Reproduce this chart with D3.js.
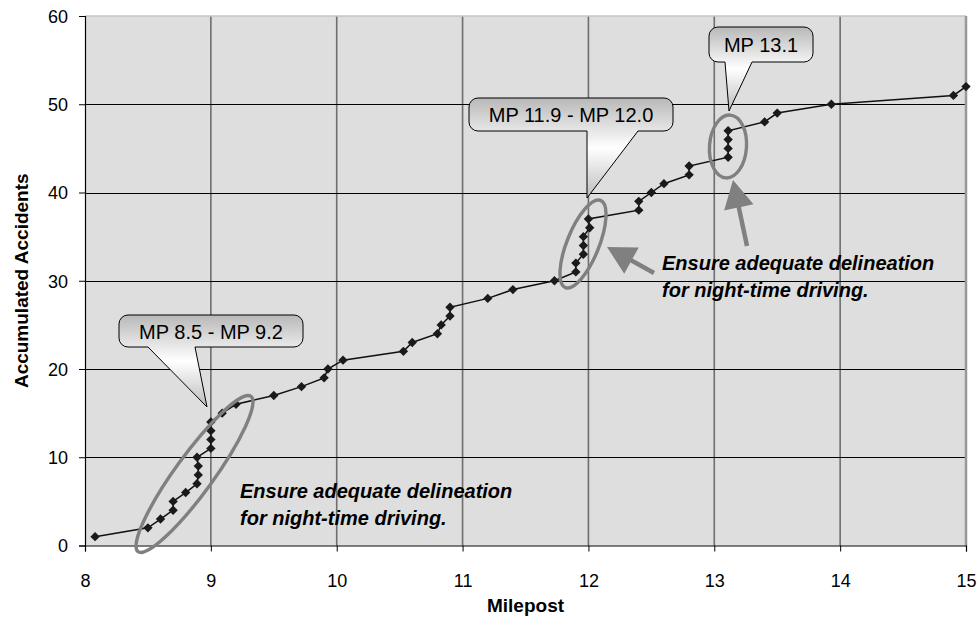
<!DOCTYPE html>
<html><head><meta charset="utf-8">
<script src="https://cdn.jsdelivr.net/npm/d3@7"></script>
<style>body{margin:0;background:#fff}svg{display:block;font-family:Arial,"Liberation Sans",sans-serif}</style>
</head><body><svg id="c" width="979" height="634"></svg>
<script>
// ---- data ----
const milepost = [8.08, 8.50, 8.60, 8.70, 8.70, 8.80, 8.89, 8.90, 8.90, 8.89,
  9.00, 9.00, 9.00, 9.00, 9.09, 9.20, 9.50, 9.72, 9.90, 9.93,
  10.05, 10.53, 10.60, 10.80, 10.83, 10.90, 10.90, 11.20, 11.40, 11.73,
  11.90, 11.90, 11.96, 11.96, 11.96, 12.01, 12.00, 12.40, 12.40, 12.50,
  12.60, 12.80, 12.80, 13.11, 13.11, 13.11, 13.11, 13.40, 13.50, 13.93,
  14.90, 15.00];
const accidents = [1, 2, 3, 4, 5, 6, 7, 8, 9, 10,
  11, 12, 13, 14, 15, 16, 17, 18, 19, 20,
  21, 22, 23, 24, 25, 26, 27, 28, 29, 30,
  31, 32, 33, 34, 35, 36, 37, 38, 39, 40,
  41, 42, 43, 44, 45, 46, 47, 48, 49, 50,
  51, 52];
const xTicks = [8, 9, 10, 11, 12, 13, 14, 15];
const yTicks = [0, 10, 20, 30, 40, 50, 60];
const xTitle = "Milepost";
const yTitle = "Accumulated Accidents";
const calloutLabels = ["MP 8.5 - MP 9.2", "MP 11.9 - MP 12.0", "MP 13.1"];
const noteLines = ["Ensure adequate delineation", "for night-time driving."];

// ---- layout ----
const svg = d3.select("#c");
const x = d3.scaleLinear().domain([8, 15]).range([85, 966]);
const y = d3.scaleLinear().domain([0, 60]).range([545.5, 16]);
const pts = milepost.map((m, i) => ({m, a: accidents[i]}));

// defs
const defs = svg.append("defs");
const g1 = defs.append("linearGradient").attr("id", "cg").attr("x1", 0).attr("y1", 0).attr("x2", 0).attr("y2", 1);
g1.append("stop").attr("offset", "0%").attr("stop-color", "#b8b8b8");
g1.append("stop").attr("offset", "50%").attr("stop-color", "#ffffff");
g1.append("stop").attr("offset", "100%").attr("stop-color", "#bdbdbd");

// plot background
svg.append("rect").attr("x", x(8)).attr("y", y(60)).attr("width", x(15) - x(8)).attr("height", y(0) - y(60)).attr("fill", "#dedede");

// vertical grid
svg.append("g").selectAll("line").data(xTicks.filter(d => d > 8 && d < 15)).join("line")
  .attr("x1", d => x(d)).attr("x2", d => x(d)).attr("y1", y(60)).attr("y2", y(0))
  .attr("stroke", "#6e6e6e").attr("stroke-width", 1.6);
// horizontal grid
svg.append("g").selectAll("line").data(yTicks.filter(d => d > 0 && d < 60)).join("line")
  .attr("x1", x(8)).attr("x2", x(15)).attr("y1", d => Math.round(y(d)) + 0.5).attr("y2", d => Math.round(y(d)) + 0.5)
  .attr("stroke", "#000").attr("stroke-width", 1);
// plot border top/right
svg.append("line").attr("x1", x(8)).attr("x2", x(15)).attr("y1", y(60)).attr("y2", y(60)).attr("stroke", "#c4c4c4").attr("stroke-width", 1.5);
svg.append("line").attr("x1", x(15)).attr("x2", x(15)).attr("y1", y(60)).attr("y2", y(0)).attr("stroke", "#999").attr("stroke-width", 2.5);

// axes
const xAxis = d3.axisBottom(x).tickValues(xTicks).tickSize(6).tickPadding(0).tickFormat(d3.format("d"));
const gx = svg.append("g").attr("transform", `translate(0,${y(0)})`).call(xAxis);
gx.select(".domain").attr("stroke", "#000").attr("stroke-width", 1.2);
gx.selectAll(".tick line").attr("stroke", "#000");
gx.selectAll(".tick text").attr("font-size", 18).attr("font-family", "Arial, 'Liberation Sans', sans-serif")
  .attr("fill", "#000").attr("y", 41.5).attr("dy", 0);

const yAxis = d3.axisLeft(y).tickValues(yTicks).tickSize(6).tickPadding(11).tickFormat(d3.format("d"));
const gy = svg.append("g").attr("transform", `translate(${x(8)},0)`).call(yAxis);
gy.select(".domain").attr("stroke", "#000").attr("stroke-width", 1.2);
gy.selectAll(".tick line").attr("stroke", "#000");
gy.selectAll(".tick text").attr("font-size", 18).attr("font-family", "Arial, 'Liberation Sans', sans-serif")
  .attr("fill", "#000").attr("dy", "0.36em").attr("x", -17);

// titles
svg.append("text").attr("x", (x(8) + x(15)) / 2).attr("y", 612).attr("text-anchor", "middle")
  .attr("font-size", 19).attr("font-weight", "bold").text(xTitle);
svg.append("text").attr("transform", `translate(28,${(y(0) + y(60)) / 2}) rotate(-90)`).attr("text-anchor", "middle")
  .attr("font-size", 19).attr("font-weight", "bold").text(yTitle);

// data line + markers
svg.append("path").datum(pts)
  .attr("d", d3.line().x(d => x(d.m)).y(d => y(d.a)))
  .attr("fill", "none").attr("stroke", "#111").attr("stroke-width", 1.5);
svg.append("g").selectAll("path").data(pts).join("path")
  .attr("transform", d => `translate(${x(d.m)},${y(d.a)})`)
  .attr("d", d3.symbol(d3.symbolDiamond2, 56))
  .attr("fill", "#1a1a1a");

// ---- annotations (pixel layout) ----
const ellipses = [
  {cx: 194.5, cy: 474, rx: 96, ry: 19, rot: -54},
  {cx: 583, cy: 244, rx: 16, ry: 47, rot: 22},
  {cx: 728, cy: 146.5, rx: 18.5, ry: 31.5, rot: 4}
];
svg.append("g").selectAll("ellipse").data(ellipses).join("ellipse")
  .attr("cx", 0).attr("cy", 0).attr("rx", d => d.rx).attr("ry", d => d.ry)
  .attr("transform", d => `translate(${d.cx},${d.cy}) rotate(${d.rot})`)
  .attr("fill", "none").attr("stroke", "#808080").attr("stroke-width", 3.4);

function arrowPath(x0, y0, x1, y1, hl, hw, sw) {
  const dx = x1 - x0, dy = y1 - y0, L = Math.hypot(dx, dy);
  const ux = dx / L, uy = dy / L, nx = -uy, ny = ux;
  const bx = x1 - ux * hl, by = y1 - uy * hl;
  const p = [
    [x0 + nx * sw / 2, y0 + ny * sw / 2], [bx + nx * sw / 2, by + ny * sw / 2],
    [bx + nx * hw / 2, by + ny * hw / 2], [x1, y1],
    [bx - nx * hw / 2, by - ny * hw / 2], [bx - nx * sw / 2, by - ny * sw / 2],
    [x0 - nx * sw / 2, y0 - ny * sw / 2]];
  return "M" + p.map(q => q.join(",")).join("L") + "Z";
}
const arrows = [
  {x0: 654, y0: 273, x1: 607, y1: 247},
  {x0: 747, y0: 246, x1: 733, y1: 180}
];
svg.append("g").selectAll("path").data(arrows).join("path")
  .attr("d", d => arrowPath(d.x0, d.y0, d.x1, d.y1, 28, 30, 4.5))
  .attr("fill", "#808080");

// callouts
function calloutPath(c) {
  const r = 9, {x0, y0, x1, y1, b0, b1, tx, ty} = c;
  return `M${x0 + r},${y0}H${x1 - r}A${r},${r} 0 0 1 ${x1},${y0 + r}V${y1 - r}A${r},${r} 0 0 1 ${x1 - r},${y1}` +
    `H${b1}L${tx},${ty}L${b0},${y1}H${x0 + r}A${r},${r} 0 0 1 ${x0},${y1 - r}V${y0 + r}A${r},${r} 0 0 1 ${x0 + r},${y0}Z`;
}
const callouts = [
  {x0: 119, y0: 315, x1: 303, y1: 347, b0: 148, b1: 195, tx: 207, ty: 407, label: calloutLabels[0]},
  {x0: 469, y0: 98, x1: 673, y1: 131, b0: 587, b1: 638, tx: 587, ty: 198, label: calloutLabels[1]},
  {x0: 709, y0: 27, x1: 813, y1: 62, b0: 725, b1: 752, tx: 729, ty: 111, label: calloutLabels[2]}
];
const cg = svg.append("g").selectAll("g").data(callouts).join("g");
cg.append("path").attr("d", calloutPath).attr("fill", "url(#cg)").attr("stroke", "#000").attr("stroke-width", 1);
cg.append("text").attr("x", d => (d.x0 + d.x1) / 2).attr("y", d => (d.y0 + d.y1) / 2 + 7.5)
  .attr("text-anchor", "middle").attr("font-size", 20).attr("fill", "#000").text(d => d.label);

// notes
const notes = [{x: 662, y: 270}, {x: 240, y: 498}];
notes.forEach(n => {
  const t = svg.append("text").attr("x", n.x).attr("y", n.y).attr("font-size", 20)
    .attr("font-weight", "bold").attr("font-style", "italic").attr("fill", "#000");
  noteLines.forEach((s, i) => t.append("tspan").attr("x", n.x).attr("dy", i ? 27 : 0).text(s));
});
</script>
</body></html>
